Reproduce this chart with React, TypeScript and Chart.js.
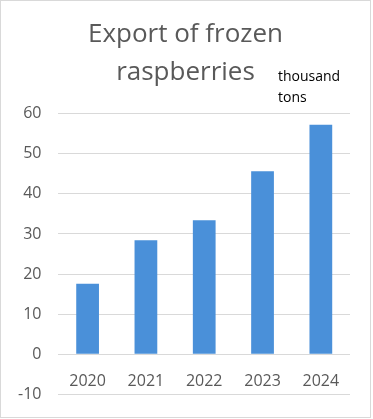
import React, { useEffect, useRef } from "react";
import { Chart, registerables } from "chart.js";

Chart.register(...registerables);

const categories = ["2020", "2021", "2022", "2023", "2024"];
const exportValues = [17.6, 28.4, 33.4, 45.6, 57.2];
const titleLines = ["Export of frozen", "raspberries"];
const unitLines = ["thousand", "tons"];
const yMin = -10;
const yMax = 60;
const yStep = 10;

const FONT = "'Open Sans', 'Liberation Sans', sans-serif";

export default function App() {
  const canvasRef = useRef<HTMLCanvasElement | null>(null);

  useEffect(() => {
    document.body.style.margin = "0";
    const ctx = canvasRef.current;
    if (!ctx) return;
    const chart = new Chart(ctx, {
      type: "bar",
      data: {
        labels: categories,
        datasets: [
          {
            data: exportValues,
            backgroundColor: "#4A90D9",
            barPercentage: 0.39,
            categoryPercentage: 1,
          },
        ],
      },
      options: {
        animation: false,
        responsive: false,
        maintainAspectRatio: false,
        layout: { padding: { left: 0, right: 0, bottom: 22.5, top: 0 } },
        plugins: {
          legend: { display: false },
          tooltip: { enabled: false },
          title: {
            display: true,
            text: titleLines,
            color: "#595959",
            font: { family: FONT, size: 26, weight: "normal", lineHeight: 1.46 },
            padding: { top: 15, bottom: 21.6 },
          },
        },
        scales: {
          x: {
            position: { y: 0 },
            grid: { display: false, drawTicks: false },
            border: { display: false },
            ticks: {
              color: "#595959",
              font: { family: FONT, size: 16 },
              padding: 17.5,
            },
            afterFit: (scale: any) => {
              scale.height = 0;
            },
          },
          y: {
            min: yMin,
            max: yMax,
            grid: { color: "#d9d9d9", lineWidth: 1, drawTicks: false },
            border: { display: false },
            ticks: {
              stepSize: yStep,
              color: "#595959",
              font: { family: FONT, size: 16 },
              padding: 17,
            },
            afterFit: (scale: any) => {
              scale.paddingTop = 0;
              scale.paddingBottom = 0;
            },
          },
          ySpacer: {
            type: "linear",
            position: "right",
            display: true,
            grid: { display: false, drawTicks: false },
            border: { display: false },
            ticks: { display: false },
            afterFit: (scale: any) => {
              scale.width = 20;
            },
          },
        },
      },
    });
    return () => chart.destroy();
  }, []);

  return (
    <div
      style={{
        position: "relative",
        width: 371,
        height: 418,
        border: "1px solid #d9d9d9",
        boxSizing: "border-box",
        background: "#fff",
      }}
    >
      <canvas ref={canvasRef} width={369} height={416} style={{ display: "block" }} />
      <div
        style={{
          position: "absolute",
          left: 277,
          top: 64,
          fontFamily: FONT,
          fontSize: 14,
          lineHeight: "21px",
          color: "#000",
        }}
      >
        {unitLines.map((l) => (
          <div key={l}>{l}</div>
        ))}
      </div>
    </div>
  );
}
